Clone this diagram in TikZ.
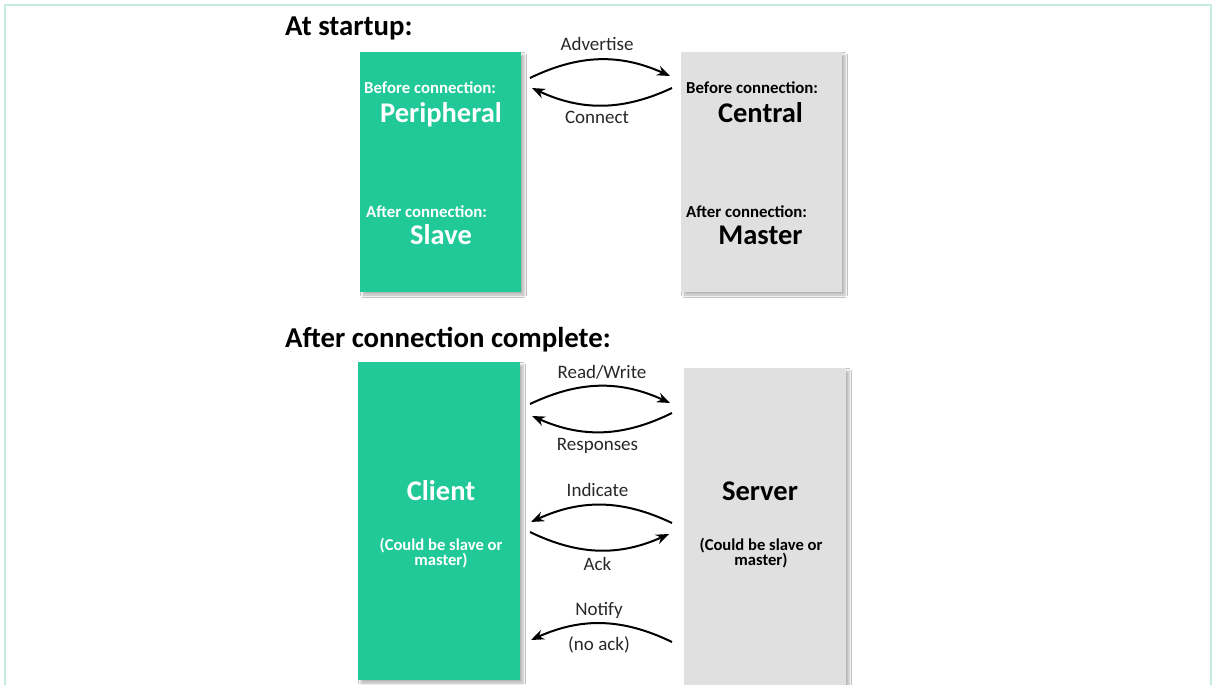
\documentclass[tikz,border=0pt]{standalone}
\usepackage{fontspec}
\setmainfont{Carlito}
\usetikzlibrary{arrows.meta,shadows.blur}
\definecolor{bgreen}{RGB}{32,201,151}
\definecolor{bgray}{RGB}{224,224,224}
\definecolor{framecol}{RGB}{200,236,226}
\definecolor{lbl}{RGB}{40,40,40}
\begin{document}
\begin{tikzpicture}[x=1pt,y=1pt,
  title/.style={anchor=base west, inner sep=0pt, font=\fontsize{28.8}{32}\selectfont\bfseries},
  greenbox/.style={fill=bgreen, anchor=north west, inner sep=0pt, outer sep=0pt,
    blur shadow={shadow xshift=3pt, shadow yshift=-3pt, shadow blur radius=2.5pt, shadow opacity=30}},
  graybox/.style={greenbox, fill=bgray},
  smalltxt/.style={anchor=base west, inner sep=0pt, font=\fontsize{16.8}{18}\selectfont\bfseries},
  bigtxt/.style={anchor=base, inner sep=0pt, font=\fontsize{28.5}{32}\selectfont\bfseries},
  notetxt/.style={align=center, inner sep=0pt, font=\fontsize{16.6}{11}\selectfont\bfseries},
  lab/.style={anchor=base, inner sep=0pt, text=lbl, font=\fontsize{19}{22}\selectfont},
  arr/.style={-{Stealth[length=13pt,width=10pt]}, line width=2pt, black}
]
\useasboundingbox (0,0) rectangle (1215,-685);
\fill[white] (0,0) rectangle (1215,-685);
\draw[framecol, line width=2pt] (5,-5) rectangle (1211,-700);

% boxes
\node[greenbox, minimum width=161pt, minimum height=240pt] (periph) at (360,-52) {};
\node[graybox, minimum width=161pt, minimum height=240pt] (central) at (681,-52) {};
\node[greenbox, minimum width=162pt, minimum height=318pt] (client) at (358,-362) {};
\node[graybox, minimum width=162pt, minimum height=330pt] (server) at (684,-368) {};

% titles
\node[title] (t1) at (285,-36) {At startup:};
\node[title] (t2) at (285,-347) {After connection complete:};

% box texts
\node[smalltxt, text=white] (pb) at (364,-93) {Before connection:};
\node[bigtxt, text=white] (pn) at (441,-122) {Peripheral};
\node[smalltxt, text=white] (pa) at (366,-217) {After connection:};
\node[bigtxt, text=white] (ps) at (441,-244) {Slave};
\node[smalltxt] (cb) at (686,-93) {Before connection:};
\node[bigtxt] (cn) at (760.5,-122) {Central};
\node[smalltxt] (ca) at (686,-217) {After connection:};
\node[bigtxt] (cm) at (760.5,-244) {Master};
\node[bigtxt, text=white] (cl) at (441,-500) {Client};
\node[notetxt, text=white] (cln) at (441,-553) {(Could be slave or\\[-1pt]master)};
\node[bigtxt] (sv) at (760,-500) {Server};
\node[notetxt] (svn) at (761,-553) {(Could be slave or\\[-1pt]master)};

% arrow labels
\node[lab] (adv) at (597,-51) {Advertise};
\node[lab] (con) at (597,-123) {Connect};
\node[lab] (rw) at (602,-378) {Read/Write};
\node[lab] (rsp) at (597.5,-450) {Responses};
\node[lab] (ind) at (597.5,-496) {Indicate};
\node[lab] (ack) at (597.5,-570) {Ack};
\node[lab] (ntf) at (599,-615) {Notify};
\node[lab] (nak) at (599,-650) {(no ack)};

% arrow end points
\coordinate (advS) at (530,-78);   \coordinate (advE) at (670,-76);
\coordinate (conS) at (672,-88);   \coordinate (conE) at (532,-88);
\coordinate (rwS) at (530,-404);   \coordinate (rwE) at (670,-403);
\coordinate (rspS) at (672,-413);  \coordinate (rspE) at (532,-416);
\coordinate (indS) at (672,-523);  \coordinate (indE) at (531,-522);
\coordinate (ackS) at (530,-532);  \coordinate (ackE) at (669,-534);
\coordinate (ntfS) at (672,-642);  \coordinate (ntfE) at (531,-640);

% arrows
\draw[arr] (advS) to[bend left=25] (advE);
\draw[arr] (conS) to[bend left=25] (conE);
\draw[arr] (rwS) to[bend left=25] (rwE);
\draw[arr] (rspS) to[bend left=25] (rspE);
\draw[arr] (indS) to[bend right=25] (indE);
\draw[arr] (ackS) to[bend right=25] (ackE);
\draw[arr] (ntfS) to[bend right=25] (ntfE);
\end{tikzpicture}
\end{document}
